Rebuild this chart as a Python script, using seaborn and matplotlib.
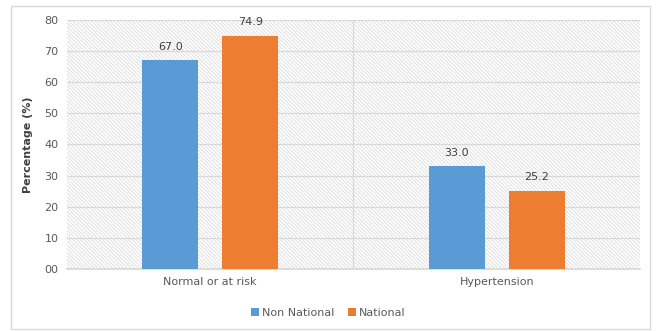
import matplotlib
matplotlib.use("Agg")
import matplotlib.pyplot as plt
import seaborn as sns
import pandas as pd
from matplotlib.patches import Rectangle
from matplotlib.ticker import FuncFormatter, MultipleLocator

categories = ["Normal or at risk", "Hypertension"]
groups = ["Non National", "National"]
non_national = [67.0, 33.0]
national = [74.9, 25.2]

df = pd.DataFrame({
    "Category": categories * 2,
    "Group": [groups[0]] * 2 + [groups[1]] * 2,
    "Value": non_national + national,
})

sns.set_theme(style="white")
plt.rcParams['font.family'] = ['DejaVu Sans']
plt.rcParams['hatch.color'] = '#d4d4d4'
plt.rcParams['hatch.linewidth'] = 0.5

fig = plt.figure(figsize=(6.57, 3.31), dpi=100)
ax = fig.add_axes([0.102, 0.187, 0.872, 0.753])

# outer border
fig.patches.append(Rectangle((0.016, 0.005), 0.974, 0.978, transform=fig.transFigure,
                             fill=False, edgecolor='#d9d9d9', linewidth=1.0))

# hatched background
ax.add_patch(Rectangle((0, 0), 1, 1, transform=ax.transAxes, facecolor='white',
                       edgecolor='#d4d4d4', hatch='\\' * 9, linewidth=0, zorder=0))

sns.barplot(data=df, x="Category", y="Value", hue="Group", order=categories,
            hue_order=groups, palette=["#5B9BD5", "#ED7D31"], width=0.558, gap=0.3,
            ax=ax, zorder=3, edgecolor='none', saturation=1)

for c in ax.containers:
    ax.bar_label(c, fmt='%.1f', padding=6, fontsize=8, color='#404040')

ax.set_ylim(0, 80)
ax.set_xlim(-0.5, 1.5)
ax.yaxis.set_major_locator(MultipleLocator(10))
ax.yaxis.set_major_formatter(FuncFormatter(lambda v, p: f"{int(v):02d}"))
ax.grid(axis='y', color='#d9d9d9', linewidth=0.9, zorder=1)
ax.set_axisbelow(True)
ax.axvline(0.5, color='#d9d9d9', linewidth=0.9, zorder=1)

for s in ['top', 'right', 'left']:
    ax.spines[s].set_visible(False)
ax.spines['bottom'].set_color('#d9d9d9')

ax.tick_params(axis='both', length=0, labelsize=8, colors='#595959', pad=6)
ax.set_xlabel("")
ax.set_ylabel("Percentage (%)", fontsize=8, fontweight='bold', color='#404040', labelpad=8)

ax.legend(loc='upper center', bbox_to_anchor=(0.456, -0.115), ncol=2, frameon=False,
          fontsize=8, handlelength=0.7, handleheight=0.7, handletextpad=0.3,
          columnspacing=1.2, labelcolor='#595959')

fig.savefig("out.png", dpi=100)
